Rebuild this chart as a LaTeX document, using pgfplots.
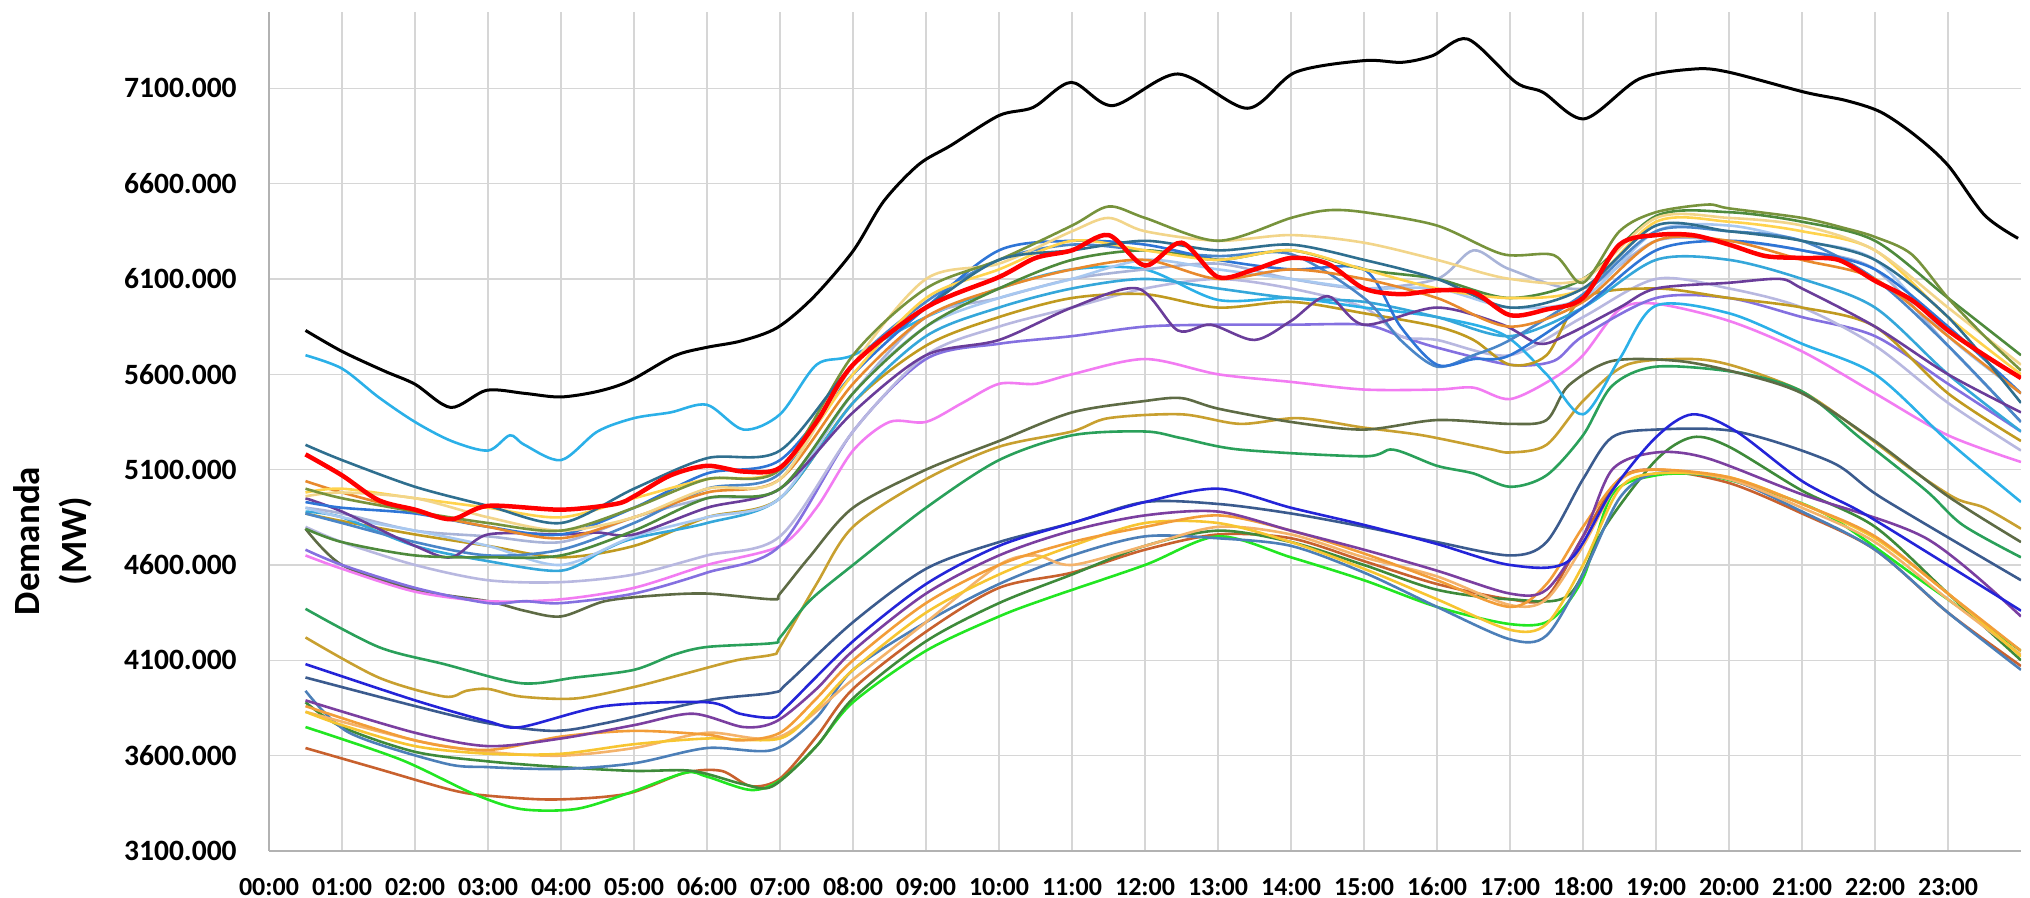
\documentclass[border=0pt]{standalone}
\usepackage{pgfplots}
\pgfplotsset{compat=1.18}
\usepackage{fontspec}
\setmainfont{Carlito}
\definecolor{cT1}{HTML}{2F6F8F}
\definecolor{cT3}{HTML}{77933C}
\definecolor{cT4}{HTML}{F2D58A}
\definecolor{cT5}{HTML}{2E75D6}
\definecolor{cT6}{HTML}{A9B4D8}
\definecolor{cT7}{HTML}{6A3D9A}
\definecolor{cT9}{HTML}{E8892C}
\definecolor{cT10}{HTML}{FFD34D}
\definecolor{cT11}{HTML}{C09A20}
\definecolor{cT12}{HTML}{2BB0E8}
\definecolor{cT13}{HTML}{A8C8F0}
\definecolor{cT14}{HTML}{35A7DA}
\definecolor{cT15}{HTML}{4A86C8}
\definecolor{cT16}{HTML}{4E8A3C}
\definecolor{cM1}{HTML}{F27CF2}
\definecolor{cM2}{HTML}{8470E0}
\definecolor{cM3}{HTML}{B8B8E0}
\definecolor{cM4}{HTML}{5E6B45}
\definecolor{cG}{HTML}{2AA05A}
\definecolor{cY}{HTML}{C8A030}
\definecolor{cB1}{HTML}{2424D8}
\definecolor{cB2}{HTML}{3B5B8E}
\definecolor{cB3}{HTML}{7B3FA0}
\definecolor{cB4}{HTML}{F29D38}
\definecolor{cB5}{HTML}{F7C531}
\definecolor{cB6}{HTML}{4C7FB8}
\definecolor{cB7}{HTML}{3E8A3A}
\definecolor{cB8}{HTML}{22E622}
\definecolor{cB9}{HTML}{C8612E}
\definecolor{cB10}{HTML}{F4B36B}
\begin{document}
\begin{tikzpicture}[x=1bp,y=1bp]
\useasboundingbox (0,0) rectangle (2030,898);
\begin{axis}[
  at={(269bp,47bp)}, anchor=south west, scale only axis,
  width=1752bp, height=839bp,
  xmin=0, xmax=24, ymin=3100, ymax=7500,
  xtick={0,1,...,23},
  xticklabels={00:00,01:00,02:00,03:00,04:00,05:00,06:00,07:00,08:00,09:00,10:00,11:00,12:00,13:00,14:00,15:00,16:00,17:00,18:00,19:00,20:00,21:00,22:00,23:00},
  ytick={3100,3600,4100,4600,5100,5600,6100,6600,7100},
  yticklabels={3100.000,3600.000,4100.000,4600.000,5100.000,5600.000,6100.000,6600.000,7100.000},
  grid=major, major grid style={draw=black!16, line width=1.3bp},
  axis lines=left, axis line style={-, draw=black!30, line width=1.6bp},
  tick style={draw=none},
  xticklabel style={font=\bfseries\fontsize{26bp}{26bp}\selectfont, anchor=base, inner sep=0pt, yshift=-42bp},
  yticklabel style={font=\bfseries\fontsize{29.5bp}{30bp}\selectfont, anchor=east, inner sep=0pt, xshift=-30bp},
  ylabel={Demanda\\(MW)},
  ylabel style={font=\bfseries\fontsize{37bp}{47bp}\selectfont, align=center, at={(axis description cs:-0.1233,0.3695)}, anchor=center},
  ln/.style={line width=2.6bp, smooth, tension=0.5},
]
% bottom group
\addplot[ln, cB9] coordinates {(0.5,3640)(1.5,3530)(2.5,3420)(3,3390)(3.9,3370)(4.9,3400)(5.7,3510)(6.2,3520)(6.6,3440)(7,3480)(7.5,3700)(8,3950)(9,4250)(10,4480)(11,4560)(12,4680)(13,4760)(14,4740)(15,4620)(16,4500)(17,4420)(17.5,4430)(18,4750)(18.5,5050)(19,5100)(20,5030)(21,4870)(22,4680)(23,4350)(24,4070)};
\addplot[ln, cB8] coordinates {(0.5,3750)(1.8,3580)(2.8,3400)(3.45,3320)(4.2,3320)(4.9,3400)(5.7,3510)(6,3490)(6.6,3420)(7,3470)(7.5,3650)(8,3880)(9,4150)(10,4330)(10.7,4430)(12,4600)(13,4750)(14,4640)(15,4520)(16,4380)(17,4290)(17.55,4310)(18,4530)(18.4,4970)(19,5070)(19.7,5070)(20.5,4990)(21.4,4850)(22.7,4500)(24,4150)};
\addplot[ln, cB7] coordinates {(0.5,3880)(1,3750)(2,3620)(3,3570)(4,3540)(5,3520)(5.8,3520)(6.5,3450)(6.9,3440)(7.5,3650)(8,3900)(9,4200)(10,4400)(11,4550)(12,4700)(13,4780)(14,4720)(15,4600)(16,4470)(17,4420)(17.8,4440)(18.3,4800)(19,5150)(19.5,5270)(20,5220)(21,4990)(22,4800)(23,4450)(24,4100)};
\addplot[ln, cB6] coordinates {(0.5,3940)(1.1,3720)(2.4,3560)(3,3540)(4,3530)(5,3560)(6,3640)(6.9,3630)(7.5,3800)(8,4050)(9,4300)(10,4500)(11,4650)(12,4750)(13,4740)(14,4700)(15,4560)(16,4380)(17,4210)(17.5,4230)(18,4550)(18.5,4950)(19,5080)(20,5050)(21,4880)(22,4680)(23,4350)(24,4050)};
\addplot[ln, cB10] coordinates {(0.5,3830)(2,3680)(3,3620)(4,3600)(5,3640)(6,3720)(7,3700)(8,4000)(9,4300)(10,4600)(10.5,4650)(11,4600)(12,4700)(13,4800)(14,4760)(15,4640)(16,4540)(17,4390)(17.5,4420)(18,4700)(18.5,5040)(19,5100)(20,5050)(21,4900)(22,4720)(23,4420)(24,4130)};
\addplot[ln, cB5] coordinates {(0.5,3830)(1,3760)(2,3650)(3,3610)(4,3610)(5,3660)(6,3690)(7,3690)(7.5,3850)(8,4050)(9,4350)(10,4550)(11,4700)(12,4820)(13,4820)(14,4720)(15,4580)(16,4420)(17,4260)(17.5,4290)(18,4600)(18.5,5000)(19,5080)(20,5060)(21,4920)(22,4740)(23,4450)(24,4120)};
\addplot[ln, cB4] coordinates {(0.5,3860)(2,3680)(3,3630)(4,3700)(5,3730)(6,3710)(6.45,3680)(7,3720)(7.5,3900)(8,4100)(9,4400)(10,4600)(11,4720)(12,4800)(13,4860)(14,4780)(15,4660)(16,4520)(17,4380)(17.5,4500)(18,4800)(18.5,5050)(19,5100)(20,5060)(21,4920)(22,4750)(23,4450)(24,4150)};
\addplot[ln, cB3] coordinates {(0.5,3890)(2,3720)(3,3650)(4,3690)(5,3760)(5.8,3820)(6.5,3750)(6.95,3780)(7.5,3950)(8,4150)(9,4450)(10,4650)(11,4780)(12,4860)(13,4880)(14,4780)(15,4680)(16,4570)(17,4450)(17.5,4470)(18,4750)(18.4,5100)(19,5190)(19.7,5160)(21,4970)(22.7,4740)(24,4330)};
\addplot[ln, cB2] coordinates {(0.5,4010)(2,3860)(3,3770)(3.9,3730)(4.6,3770)(6,3890)(6.9,3930)(7.1,3980)(8,4300)(9,4580)(10,4720)(11,4820)(12,4930)(13,4920)(14,4870)(15,4800)(16,4720)(17,4650)(17.5,4720)(18,5050)(18.4,5270)(19,5310)(20.1,5300)(21.4,5140)(22.1,4950)(24,4520)};
\addplot[ln, cB1] coordinates {(0.5,4080)(2,3890)(3,3780)(3.45,3750)(4.6,3860)(6,3880)(6.45,3820)(6.9,3800)(7.1,3860)(8,4200)(9,4500)(10,4700)(11,4820)(12,4930)(13,5000)(14,4900)(15,4810)(16,4710)(17,4600)(17.8,4620)(18.4,4990)(19,5270)(19.5,5390)(20.1,5300)(21,5040)(21.8,4880)(22.7,4670)(24,4360)};
% lower group
\addplot[ln, cY] coordinates {(0.5,4220)(1.5,4010)(2.4,3910)(2.7,3940)(3,3950)(3.45,3910)(4.2,3900)(5,3960)(5.7,4030)(6.4,4100)(6.9,4130)(7,4170)(7.5,4500)(8,4800)(9,5050)(10,5220)(11,5300)(11.5,5370)(12.5,5390)(13.3,5340)(14.1,5370)(15,5320)(15.8,5280)(16.7,5210)(17,5190)(17.5,5230)(18,5460)(18.6,5650)(19.5,5680)(20.1,5640)(21,5510)(21.8,5300)(22.5,5100)(23.1,4950)(23.5,4900)(24,4790)};
\addplot[ln, cG] coordinates {(0.5,4370)(1.5,4170)(2.4,4080)(3.45,3980)(4.2,4010)(5,4050)(5.55,4130)(6,4170)(6.9,4190)(7,4220)(7.4,4410)(8,4600)(9,4900)(10,5150)(11,5280)(12,5300)(12.5,5265)(13.3,5205)(15,5170)(15.4,5205)(16,5120)(16.5,5080)(17,5010)(17.5,5070)(18,5280)(18.4,5540)(19,5640)(20.1,5610)(21,5510)(21.8,5265)(22.7,4990)(23.2,4810)(24,4640)};
% mid group
\addplot[ln, cM4] coordinates {(0.5,4790)(1,4600)(2,4470)(3,4410)(3.5,4360)(4,4330)(4.6,4410)(5.3,4440)(6,4450)(6.9,4420)(7,4450)(7.4,4640)(8,4900)(9,5100)(10,5250)(11,5400)(12,5460)(12.5,5475)(13,5420)(14,5350)(15,5310)(16,5360)(17,5340)(17.5,5360)(17.8,5540)(18.4,5670)(19.3,5670)(20.1,5610)(21,5500)(22,5250)(23,4960)(24,4720)};
\addplot[ln, cM1] coordinates {(0.5,4650)(1,4580)(2,4460)(3,4410)(4,4420)(5,4480)(6,4600)(7,4700)(7.5,4900)(8,5200)(8.5,5350)(9,5350)(9.5,5450)(10,5550)(10.5,5550)(11,5600)(12,5680)(13,5600)(14,5560)(15,5520)(16,5520)(16.5,5530)(17,5470)(17.6,5580)(18,5700)(18.5,5940)(19,5970)(20,5880)(21,5720)(22,5500)(23,5280)(24,5140)};
\addplot[ln, cM2] coordinates {(0.5,4680)(1,4600)(2,4480)(3,4400)(3.5,4410)(4,4400)(5,4450)(6,4560)(7,4700)(8,5300)(9,5680)(10,5760)(11,5800)(12,5850)(13,5860)(14,5860)(15,5860)(15.5,5800)(16,5740)(17,5650)(17.6,5670)(18,5800)(19,6000)(20,6000)(21,5900)(22,5800)(23,5550)(24,5300)};
\addplot[ln, cM3] coordinates {(0.5,4800)(1,4720)(2,4600)(3,4520)(4,4510)(5,4550)(6,4650)(7,4750)(8,5300)(9,5700)(10,5850)(11,5950)(12,6050)(13,6100)(14,6050)(15,5950)(15.5,5800)(16,5780)(17,5700)(18,5900)(19,6100)(20,6050)(21,5950)(22,5750)(23,5450)(24,5200)};
% top cluster
\addplot[ln, cT12] coordinates {(0.5,5700)(1,5630)(1.5,5480)(2,5350)(2.5,5250)(3,5200)(3.3,5280)(3.5,5230)(4,5150)(4.5,5300)(5,5370)(5.5,5400)(6,5440)(6.5,5310)(7,5390)(7.5,5650)(8,5700)(9,5900)(10,6050)(11,6150)(12,6150)(13,5990)(14,6000)(15,5950)(16,5900)(16.9,5810)(17.5,5600)(18,5390)(18.5,5680)(19,5960)(20,5920)(21,5760)(22,5600)(23,5250)(24,4930)};
\addplot[ln, cT11] coordinates {(0.5,4870)(1,4830)(2,4760)(3,4700)(4,4640)(5,4700)(6,4850)(7,4950)(8,5450)(9,5750)(10,5900)(11,6000)(12,6020)(13,5950)(14,5980)(15,5920)(16,5850)(16.5,5780)(17,5650)(17.5,5700)(18,6000)(19,6050)(20,6000)(21,5950)(22,5850)(23,5500)(24,5250)};
\addplot[ln, cT14] coordinates {(0.5,4880)(1,4850)(2,4700)(3,4620)(4,4570)(4.6,4680)(5,4740)(6,4820)(7,4950)(8,5450)(9,5800)(10,5950)(11,6050)(12,6100)(13,6050)(14,6000)(15,5980)(16,5900)(17,5800)(18,5950)(19,6200)(20,6200)(21,6100)(22,5950)(23,5600)(24,5300)};
\addplot[ln, cT6] coordinates {(0.5,4900)(1,4870)(2,4780)(3,4750)(4,4720)(5,4850)(6,4950)(7,5000)(8,5500)(9,5900)(10,6000)(11,6100)(12,6150)(13,6180)(14,6100)(15,6050)(16,6100)(16.5,6250)(17,6150)(18,6050)(19,6300)(20,6300)(21,6250)(22,6150)(23,5750)(24,5350)};
\addplot[ln, cT13] coordinates {(0.5,4900)(1,4850)(2,4780)(3,4700)(4,4600)(5,4750)(6,4850)(7,4950)(8,5500)(9,5850)(10,6000)(11,6100)(12,6200)(13,6150)(14,6100)(15,6050)(16,6050)(17,5950)(18,6000)(19,6350)(20,6380)(21,6300)(22,6200)(23,5800)(24,5500)};
\addplot[ln, cT15] coordinates {(0.5,4870)(1,4820)(2,4720)(3,4650)(4,4680)(5,4820)(6,5000)(7,5080)(8,5650)(9,5980)(10,6200)(11,6280)(12,6250)(13,6220)(14,6230)(15,6000)(15.5,5780)(16,5640)(16.5,5700)(17,5780)(18,6020)(19,6350)(20,6350)(21,6300)(22,6100)(23,5750)(24,5350)};
\addplot[ln, cT7] coordinates {(0.5,4950)(1,4880)(2,4700)(2.5,4640)(3,4760)(4,4760)(4.5,4770)(5,4760)(6,4900)(7,5000)(8,5400)(9,5700)(10,5780)(11,5950)(11.9,6050)(12.45,5830)(12.9,5860)(13.5,5780)(14,5880)(14.5,6010)(15,5860)(16,5950)(16.9,5860)(17.4,5760)(17.8,5810)(18.5,5950)(19,6050)(20,6080)(20.7,6100)(21,6050)(22,5850)(23,5600)(24,5400)};
\addplot[ln, cT5] coordinates {(0.5,4930)(1,4900)(2,4870)(3,4800)(4,4760)(5,4900)(6,5080)(7,5150)(8,5600)(9,5950)(10,6250)(11,6300)(12,6280)(13,6200)(14,6150)(15,6150)(15.5,5850)(16,5650)(16.5,5680)(17,5700)(18,5950)(19,6250)(20,6300)(21,6250)(22,6150)(23,5850)(24,5500)};
\addplot[ln, cT9] coordinates {(0.5,5040)(1,4980)(2,4880)(3,4800)(4,4740)(5,4850)(6,4980)(7,5050)(8,5550)(9,5900)(10,6050)(11,6150)(12,6200)(13,6100)(14,6150)(15,6100)(16,6000)(17,5850)(18,5980)(19,6300)(20,6300)(21,6200)(22,6100)(23,5800)(24,5500)};
\addplot[ln, cT16] coordinates {(0.5,4790)(1,4720)(2,4650)(3,4640)(4,4650)(5,4780)(6,4950)(7,5000)(8,5500)(9,5850)(10,6050)(11,6200)(12,6250)(13,6200)(14,6250)(15,6150)(16,6100)(17,6000)(18,6100)(19,6430)(20,6450)(21,6400)(22,6300)(23,6000)(24,5700)};
\addplot[ln, cT10] coordinates {(0.5,4980)(1,5000)(2,4950)(3,4900)(4,4850)(5,4950)(6,5050)(7,5100)(8,5600)(9,6000)(10,6150)(11,6300)(12,6250)(13,6200)(14,6250)(15,6150)(16,6050)(17,6000)(18,6050)(19,6400)(20,6400)(21,6350)(22,6250)(23,5900)(24,5600)};
\addplot[ln, cT4] coordinates {(0.5,4960)(1,4980)(2,4950)(3,4850)(4,4780)(5,4850)(6,5000)(7,5050)(8,5650)(9,6100)(10,6180)(11,6350)(11.5,6420)(12,6350)(13,6300)(14,6330)(15,6290)(16,6200)(17,6100)(18,6100)(19,6420)(20,6420)(21,6380)(22,6250)(23,5950)(24,5650)};
\addplot[ln, cT3] coordinates {(0.5,5000)(1,4950)(2,4880)(3,4820)(4,4780)(5,4900)(6,5050)(7,5100)(8,5700)(9,6050)(10,6200)(11,6380)(11.5,6480)(12,6420)(13,6300)(14,6420)(14.5,6460)(15,6450)(16,6380)(16.9,6230)(17.6,6225)(18,6080)(18.5,6350)(19,6450)(19.7,6490)(20,6470)(21,6420)(21.6,6365)(22,6320)(22.5,6230)(23,6000)(23.5,5800)(24,5620)};
\addplot[ln, cT1] coordinates {(0.5,5230)(1,5150)(2,5010)(3,4910)(4,4820)(5,5000)(6,5160)(7,5200)(8,5650)(9,5950)(10,6200)(11,6250)(12,6300)(13,6250)(14,6280)(15,6200)(16,6100)(17,5950)(18,6050)(19,6380)(20,6350)(21,6300)(22,6200)(23,5900)(24,5450)};
% red thick
\addplot[smooth, tension=0.5, line width=4.5bp, red] coordinates {(0.5,5180)(1,5070)(1.5,4940)(2,4890)(2.5,4840)(3,4910)(4,4890)(4.75,4920)(5,4960)(5.5,5070)(6,5120)(6.5,5090)(7,5110)(7.5,5350)(8,5650)(9,5950)(10,6110)(10.5,6210)(11,6250)(11.5,6330)(12,6170)(12.5,6290)(13,6110)(13.5,6150)(14,6210)(14.5,6180)(15,6050)(15.5,6020)(16,6040)(16.5,6030)(17,5910)(17.5,5940)(18,6000)(18.5,6280)(19,6330)(19.5,6330)(20,6280)(20.5,6220)(21,6210)(21.5,6200)(22,6090)(22.5,5990)(23,5830)(23.5,5700)(24,5580)};
% black
\addplot[smooth, tension=0.5, line width=3bp, black] coordinates {(0.5,5830)(1,5720)(1.58,5617)(2,5548)(2.49,5426)(2.98,5516)(3.5,5500)(3.99,5481)(4.5,5510)(4.94,5565)(5.55,5696)(5.98,5740)(6.47,5775)(6.96,5844)(7.45,6001)(8,6246)(8.42,6507)(8.9,6700)(9.34,6800)(10,6957)(10.47,7000)(10.99,7131)(11.56,7009)(12.45,7175)(13.4,6995)(14.06,7184)(15,7245)(15.52,7236)(15.94,7271)(16.42,7358)(17.08,7131)(17.45,7079)(18.02,6940)(18.77,7149)(19.53,7201)(20,7184)(21.04,7079)(21.6,7036)(22.08,6975)(22.55,6853)(23,6696)(23.5,6435)(23.96,6313)};
\end{axis}
\end{tikzpicture}
\end{document}
